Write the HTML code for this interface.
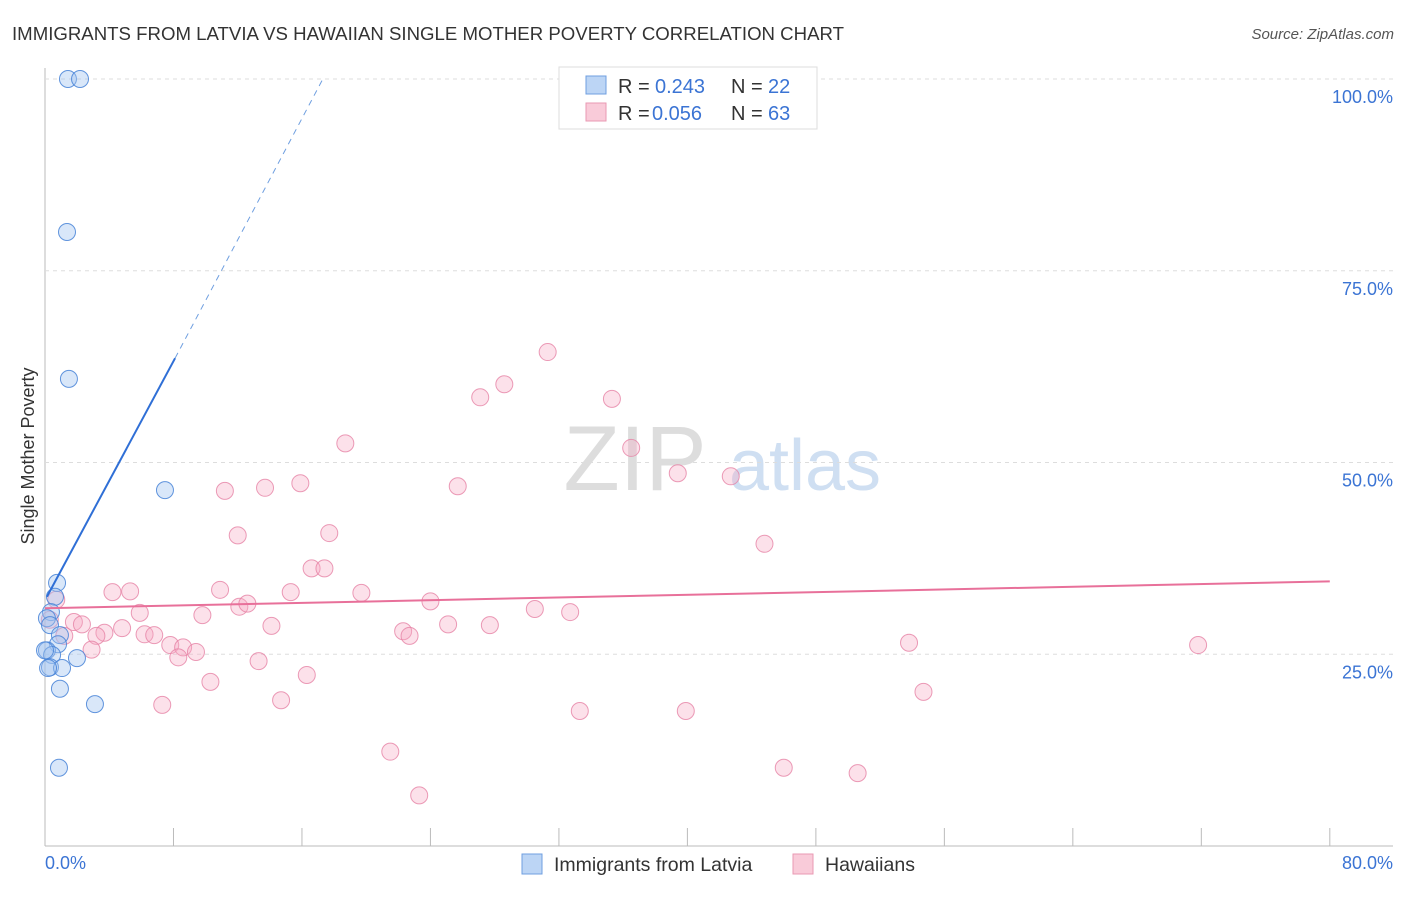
<!DOCTYPE html>
<html><head><meta charset="utf-8"><style>
body{margin:0;background:#fff;font-family:"Liberation Sans",sans-serif;}
svg text{font-family:"Liberation Sans",sans-serif;}
</style></head><body>
<svg id="chart" width="1406" height="892">
<text x="12" y="40" font-size="18" fill="#333" textLength="832" lengthAdjust="spacingAndGlyphs">IMMIGRANTS FROM LATVIA VS HAWAIIAN SINGLE MOTHER POVERTY CORRELATION CHART</text>
<text x="1394" y="39" font-size="15" fill="#555" text-anchor="end" font-style="italic">Source: ZipAtlas.com</text>
<text x="0" y="0" font-size="18" fill="#333" text-anchor="middle" transform="translate(34,456) rotate(-90)">Single Mother Poverty</text>
<g><text x="635" y="490" font-size="92" fill="#ddd" font-family="Liberation Serif" text-anchor="middle">ZIP</text><text x="805" y="490" font-size="72" fill="#cfdff2" text-anchor="middle">atlas</text></g>
<g id="grid"></g><g id="marks"></g>
<g>
<rect x="559" y="67" width="258" height="62" fill="#fff" stroke="#ddd"/>
<rect x="586" y="76" width="20" height="18" fill="#bcd5f5" stroke="#6f9fe0"/>
<rect x="586" y="103" width="20" height="18" fill="#f9cbd9" stroke="#e99ab3"/>
<text x="618" y="93" font-size="20" fill="#333">R = </text><text x="655" y="93" font-size="20" fill="#3b74d4">0.243</text>
<text x="731" y="93" font-size="20" fill="#333">N = </text><text x="768" y="93" font-size="20" fill="#3b74d4">22</text>
<text x="618" y="120" font-size="20" fill="#333">R = </text><text x="652" y="120" font-size="20" fill="#3b74d4">0.056</text>
<text x="731" y="120" font-size="20" fill="#333">N = </text><text x="768" y="120" font-size="20" fill="#3b74d4">63</text>
</g>
<g>
<rect x="522" y="854" width="20" height="20" fill="#bcd5f5" stroke="#6f9fe0"/>
<text x="554" y="871" font-size="19.5" fill="#333">Immigrants from Latvia</text>
<rect x="793" y="854" width="20" height="20" fill="#f9cbd9" stroke="#e99ab3"/>
<text x="825" y="871" font-size="19.5" fill="#333">Hawaiians</text>
</g>
</svg>
<script>
const yTicks=[25,50,75,100];
const xTickLabels=["0.0%","80.0%"];
const blueX=[1.43,2.18,1.37,1.49,7.47,0.75,0.62,0.37,0.12,0.31,0.93,0.81,0.12,0.44,1.99,0.31,1.06,0.19,0.93,3.11,0.87,0];
const blueY=[100,100,80.05,60.9,46.4,34.3,32.5,30.5,29.7,28.8,27.5,26.3,25.5,24.9,24.5,23.3,23.2,23.2,20.5,18.5,10.2,25.5];
const pinkX=[31.3,28.6,27.1,35.3,18.7,36.5,39.4,42.7,25.7,15.9,13.7,11.2,17.7,12.0,44.8,16.6,17.4,4.2,5.3,10.9,15.3,19.7,0.7,24.0,12.1,12.6,5.9,9.8,30.5,32.7,0.3,1.8,2.3,14.1,25.1,27.7,4.8,22.3,3.7,6.2,6.8,3.2,1.2,22.7,7.8,8.6,9.4,2.9,8.3,53.8,71.8,13.3,16.3,10.3,54.7,7.3,14.7,33.3,39.9,21.5,46.0,50.6,23.3];
const pinkY=[64.4,60.2,58.5,58.3,52.5,51.9,48.6,48.2,46.9,47.3,46.7,46.3,40.8,40.5,39.4,36.2,36.2,33.1,33.2,33.4,33.1,33.0,32.1,31.9,31.2,31.6,30.4,30.1,30.9,30.5,29.5,29.2,28.9,28.7,28.9,28.8,28.4,28.0,27.8,27.6,27.5,27.4,27.4,27.4,26.2,25.9,25.3,25.6,24.6,26.5,26.2,24.1,22.3,21.4,20.1,18.4,19.0,17.6,17.6,12.3,10.2,9.5,6.6];
const blueLine=[0.12,32.5,8.1,63.6,17.3,100];
const pinkLine=[0,31.0,80,34.5];
const sx=v=>45+v*16.06, sy=v=>846-v*7.67;
const NS="http://www.w3.org/2000/svg";
const grid=document.getElementById('grid'), marks=document.getElementById('marks');
function mk(tag,attrs,parent){const e=document.createElementNS(NS,tag);for(const k in attrs)e.setAttribute(k,attrs[k]);parent.appendChild(e);return e;}
let a=mk('line',{x1:45,y1:68,x2:45,y2:846,stroke:'#bbb'},grid);


a=mk('line',{x1:45,y1:846,x2:1393,y2:846,stroke:'#bbb'},grid);


yTicks.forEach(t=>{
 const g=mk('line',{x1:45,y1:sy(t),x2:1393,y2:sy(t),stroke:'#ddd','stroke-dasharray':'4,4'},grid);
 
 
 const l=mk('text',{x:1393,y:sy(t)+24,'font-size':18,fill:'#3b74d4','text-anchor':'end'},grid);
 l.textContent=t.toFixed(1)+'%';
 
 
});
for(let i=1;i<=10;i++){
 const t=mk('line',{x1:sx(i*8),y1:828,x2:sx(i*8),y2:846,stroke:'#bbb'},grid);
 
 
}
[[0,'start',45],[80,'end',1393]].forEach((d,i)=>{
 const l=mk('text',{x:d[2],y:869,'font-size':18,fill:'#3b74d4','text-anchor':d[1]},grid);
 l.textContent=xTickLabels[i];
 
 
});
pinkX.forEach((x,i)=>{
 const c=mk('circle',{cx:sx(x),cy:sy(pinkY[i]),r:8.5,fill:'rgba(245,170,195,0.35)',stroke:'rgba(230,130,165,0.8)','stroke-width':1},marks);
 
 
});
blueX.forEach((x,i)=>{
 const c=mk('circle',{cx:sx(x),cy:sy(blueY[i]),r:8.5,fill:'rgba(160,195,240,0.4)',stroke:'rgba(70,130,215,0.85)','stroke-width':1},marks);
 
 
});
let ln=mk('line',{x1:sx(blueLine[0]),y1:sy(blueLine[1]),x2:sx(blueLine[2]),y2:sy(blueLine[3]),stroke:'#2f6fd6','stroke-width':2},marks);


ln=mk('line',{x1:sx(blueLine[2]),y1:sy(blueLine[3]),x2:sx(blueLine[4]),y2:sy(blueLine[5]),stroke:'#6f9fe0','stroke-width':1,'stroke-dasharray':'6,5'},marks);


ln=mk('line',{x1:sx(pinkLine[0]),y1:sy(pinkLine[1]),x2:sx(pinkLine[2]),y2:sy(pinkLine[3]),stroke:'#e8709a','stroke-width':2},marks);


</script>
</body></html>
